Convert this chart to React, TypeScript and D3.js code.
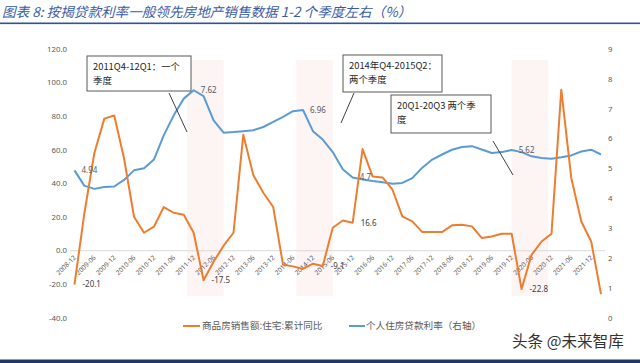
import * as d3 from 'd3';

// quarterly periods, 2008-12 .. 2022-03
const periods = [
  '2008-12',
  '2009-03', '2009-06', '2009-09', '2009-12',
  '2010-03', '2010-06', '2010-09', '2010-12',
  '2011-03', '2011-06', '2011-09', '2011-12',
  '2012-03', '2012-06', '2012-09', '2012-12',
  '2013-03', '2013-06', '2013-09', '2013-12',
  '2014-03', '2014-06', '2014-09', '2014-12',
  '2015-03', '2015-06', '2015-09', '2015-12',
  '2016-03', '2016-06', '2016-09', '2016-12',
  '2017-03', '2017-06', '2017-09', '2017-12',
  '2018-03', '2018-06', '2018-09', '2018-12',
  '2019-03', '2019-06', '2019-09', '2019-12',
  '2020-03', '2020-06', '2020-09', '2020-12',
  '2021-03', '2021-06', '2021-09', '2021-12',
  '2022-03',
];

// 商品房销售额:住宅:累计同比 (left axis, %)
const salesYoY = [
  -20.1,
  22.0, 58.0, 78.6, 80.4,
  55.0, 20.2, 10.7, 14.3,
  26.0, 22.6, 21.4, 10.7,
  -17.5, -6.5, 3.0, 10.7,
  69.0, 45.0, 34.5, 26.0,
  -8.3, -9.3, -10.8, -7.7,
  -9.1, 13.7, 18.0, 16.6,
  60.5, 44.2, 43.6, 36.3,
  20.4, 17.5, 11.1, 11.1,
  11.1, 15.1, 15.5, 14.5,
  7.6, 8.5, 10.1, 10.1,
  -22.8, -2.4, 5.5, 10.1,
  95.8, 43.3, 17.4, 5.5,
  -25.8,
];

// 个人住房贷款利率 (right axis, %)
const mortgageRate = [
  4.94,
  4.43, 4.32, 4.38, 4.40,
  4.62, 4.94, 5.01, 5.30,
  6.11, 6.78, 7.34, 7.62,
  7.42, 6.61, 6.20, 6.22,
  6.25, 6.28, 6.39, 6.56,
  6.73, 6.92, 6.96, 6.25,
  5.97, 5.55, 4.98, 4.70,
  4.63, 4.58, 4.54, 4.49,
  4.52, 4.68, 5.03, 5.30,
  5.47, 5.63, 5.72, 5.75,
  5.64, 5.52, 5.55, 5.62,
  5.55, 5.41, 5.35, 5.33,
  5.38, 5.44, 5.57, 5.63,
  5.47,
];

const leftTicks = [-40, -20, 0, 20, 40, 60, 80, 100, 120];
const rightTicks = [0, 1, 2, 3, 4, 5, 6, 7, 8, 9];

// labelled points
const salesLabels = [
  { period: '2008-12', text: '-20.1' },
  { period: '2012-03', text: '-17.5' },
  { period: '2015-03', text: '-9.1' },
  { period: '2015-12', text: '16.6' },
  { period: '2020-03', text: '-22.8' },
];
const rateLabels = [
  { period: '2008-12', text: '4.94' },
  { period: '2011-12', text: '7.62' },
  { period: '2014-09', text: '6.96' },
  { period: '2015-12', text: '4.7' },
  { period: '2019-12', text: '5.62' },
];

// shaded lead windows
const shades = [
  ['2011-10', '2012-09'],
  ['2014-07', '2015-06'],
  ['2019-12', '2020-11'],
];

const notes = [
  { lines: ['2011Q4-12Q1：一个', '季度'], box: [87, 56, 104, 35], ptr: [169, 93, 187, 132] },
  { lines: ['2014年Q4-2015Q2：', '两个季度'], box: [343, 55, 99, 37], ptr: [354, 93, 341, 123] },
  { lines: ['20Q1-20Q3 两个季', '度'], box: [391, 95, 100, 38], ptr: [493, 141, 513, 175] },
];

const ORANGE = '#ed7d31';
const BLUE = '#5b9bd5';
const AXIS_TXT = '#595959';
const FONT = '"Noto Sans", "Noto Sans CJK SC", sans-serif';
const CJK = '"Noto Sans CJK SC", sans-serif';

const parse = d3.timeParse('%Y-%m');

export default function App() {
  const dates = periods.map((p) => parse(p) as Date);

  const x = d3
    .scaleTime()
    .domain([dates[0], dates[dates.length - 1]])
    .range([74.5, 601]);
  const yL = d3.scaleLinear().domain([-40, 120]).range([318, 49]);
  const yR = d3.scaleLinear().domain([0, 9]).range([318, 49]);

  const xTicks = d3.timeMonth.range(parse('2008-12')!, parse('2022-01')!, 6);
  const fmt = d3.timeFormat('%Y-%m');

  const salesLine = d3
    .line<number>()
    .x((_, i) => x(dates[i]))
    .y((d) => yL(d));
  const rateLine = d3
    .line<number>()
    .x((_, i) => x(dates[i]))
    .y((d) => yR(d));

  const idx = (p: string) => periods.indexOf(p);

  return (
    <svg
      width={640}
      height={363}
      style={{ position: 'absolute', left: 0, top: 0, background: '#fff' }}
    >
      {/* title */}
      <text
        x={2}
        y={17}
        fontFamily={CJK}
        fontSize={13.6}
        fontStyle="italic"
        fill="#3a5ca5"
      >
        图表 8:  按揭贷款利率一般领先房地产销售数据 1-2 个季度左右（%）
      </text>
      <rect x={0} y={22.5} width={640} height={1.6} fill="#2f5496" />

      {/* shaded windows */}
      {shades.map(([a, b]) => (
        <rect
          key={a}
          x={x(parse(a)!)}
          y={60}
          width={x(parse(b)!) - x(parse(a)!)}
          height={236}
          fill="#fdf5f4"
        />
      ))}

      {/* zero line */}
      <line x1={70} x2={605} y1={yL(0)} y2={yL(0)} stroke="#d9d9d9" strokeWidth={1} />

      {/* left axis labels */}
      {leftTicks.map((t) => (
        <text
          key={t}
          x={67}
          y={yL(t)}
          dy="0.35em"
          textAnchor="end"
          fontFamily={FONT}
          fontSize={7.8}
          fill={AXIS_TXT}
        >
          {t.toFixed(1)}
        </text>
      ))}

      {/* right axis labels */}
      {rightTicks.map((t) => (
        <text
          key={t}
          x={608}
          y={yR(t)}
          dy="0.35em"
          fontFamily={FONT}
          fontSize={7.8}
          fill={AXIS_TXT}
        >
          {t}
        </text>
      ))}

      {/* x tick labels */}
      {xTicks.map((d) => {
        const tx = x(d) + 2;
        const ty = 258;
        return (
          <text
            key={+d}
            x={tx}
            y={ty}
            transform={`rotate(-45 ${tx} ${ty})`}
            textAnchor="end"
            fontFamily={FONT}
            fontSize={6.6}
            fill={AXIS_TXT}
          >
            {fmt(d)}
          </text>
        );
      })}

      {/* series */}
      <path d={rateLine(mortgageRate) ?? ''} fill="none" stroke={BLUE} strokeWidth={2} strokeLinejoin="round" />
      <path d={salesLine(salesYoY) ?? ''} fill="none" stroke={ORANGE} strokeWidth={2} strokeLinejoin="round" />

      {/* data labels */}
      {rateLabels.map((l) => {
        const i = idx(l.period);
        return (
          <text
            key={'r' + l.period}
            x={x(dates[i]) + 7}
            y={yR(mortgageRate[i])}
            dy="0.35em"
            fontFamily={FONT}
            fontSize={8}
            fill="#595959"
          >
            {l.text}
          </text>
        );
      })}
      {salesLabels.map((l) => {
        const i = idx(l.period);
        return (
          <text
            key={'s' + l.period}
            x={x(dates[i]) + 8}
            y={yL(salesYoY[i])}
            dy="0.35em"
            fontFamily={FONT}
            fontSize={8}
            fill="#404040"
          >
            {l.text}
          </text>
        );
      })}

      {/* annotations */}
      {notes.map((n, k) => (
        <g key={k}>
          <line
            x1={n.ptr[0]}
            y1={n.ptr[1]}
            x2={n.ptr[2]}
            y2={n.ptr[3]}
            stroke="#404040"
            strokeWidth={1}
          />
          <rect
            x={n.box[0]}
            y={n.box[1]}
            width={n.box[2]}
            height={n.box[3]}
            fill="#fff"
            stroke="#595959"
            strokeWidth={1}
          />
          {n.lines.map((s, j) => (
            <text
              key={j}
              x={n.box[0] + 6}
              y={n.box[1] + 14 + j * 14}
              fontFamily={CJK}
              fontSize={9.4}
              fill="#262626"
            >
              {s}
            </text>
          ))}
        </g>
      ))}

      {/* legend */}
      <line x1={183} x2={200} y1={326} y2={326} stroke={ORANGE} strokeWidth={2} />
      <text x={202} y={326} dy="0.35em" fontFamily={CJK} fontSize={9.6} fill={AXIS_TXT}>
        商品房销售额:住宅:累计同比
      </text>
      <line x1={349} x2={365} y1={326} y2={326} stroke={BLUE} strokeWidth={2} />
      <text x={366} y={326} dy="0.35em" fontFamily={CJK} fontSize={9.6} fill={AXIS_TXT}>
        个人住房贷款利率（右轴）
      </text>

      {/* watermark */}
      <text x={512} y={347} fontFamily={CJK} fontSize={15.6} fill="#333">
        头条 @未来智库
      </text>

      <rect x={0} y={359.5} width={640} height={3.5} fill="#1f3864" />
    </svg>
  );
}
